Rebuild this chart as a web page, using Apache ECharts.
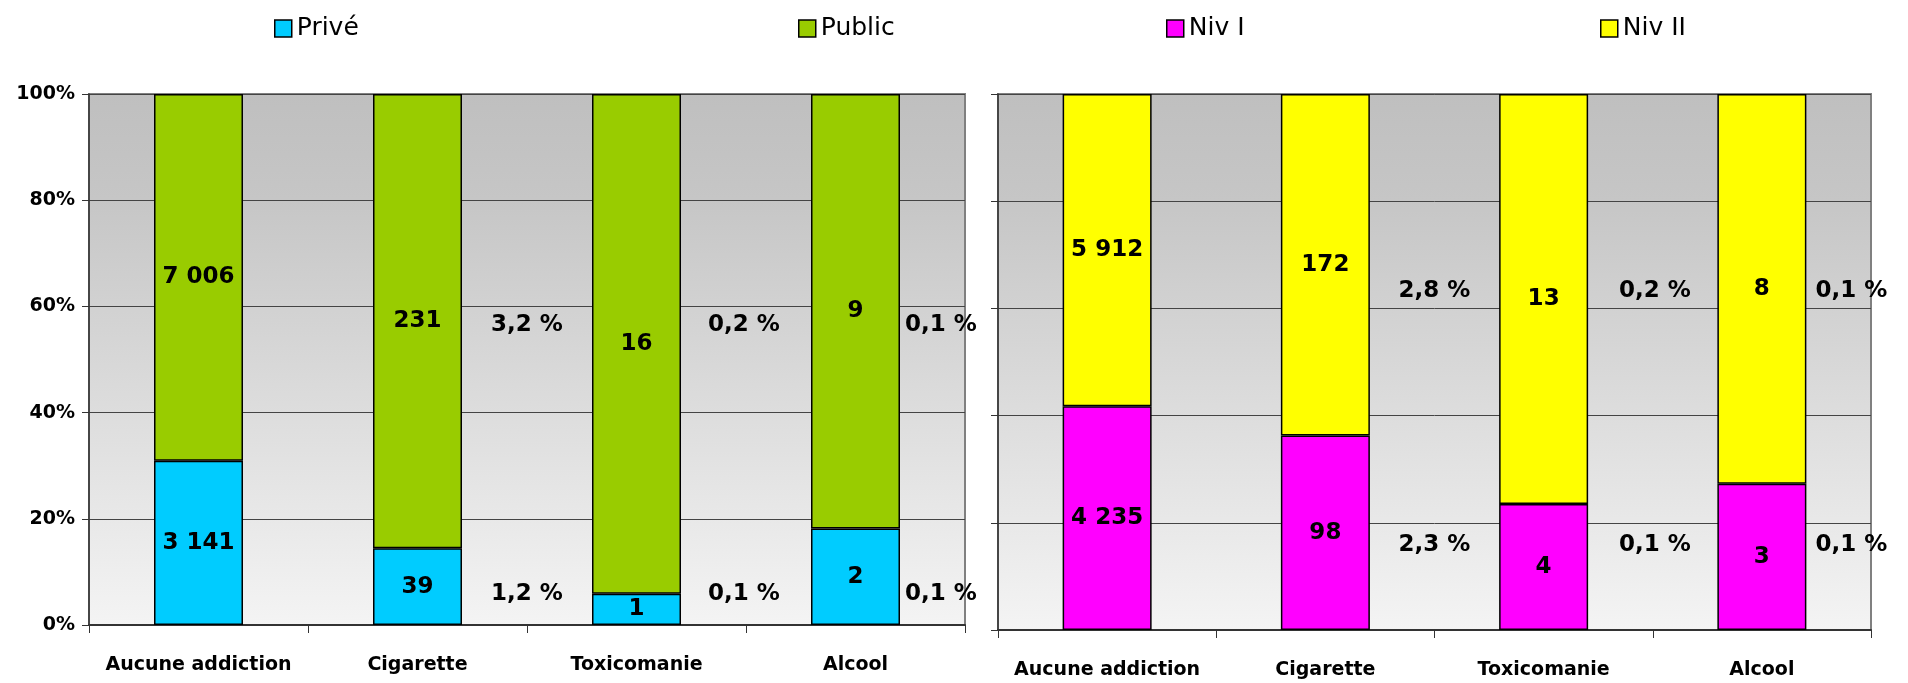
<!DOCTYPE html>
<html>
<head>
<meta charset="utf-8">
<script src="https://cdn.jsdelivr.net/npm/echarts@6/dist/echarts.min.js"></script>
<style>
html,body{margin:0;padding:0;background:#fff;}
#chart{width:1908px;height:683px;}
</style>
</head>
<body>
<div id="chart"></div>
<script>
// ---- data ----
const categories = ['Aucune addiction', 'Cigarette', 'Toxicomanie', 'Alcool'];
const prive  = [3141, 39, 1, 2];
const publicS = [7006, 231, 16, 9];
const niv1   = [4235, 98, 4, 3];
const niv2   = [5912, 172, 13, 8];
const yTicks = [0, 20, 40, 60, 80, 100];

// side annotations (text, and their anchor in data units: category-band units on x, % on y)
const leftNotesTop     = ['3,2 %', '0,2 %', '0,1 %'];
const leftNotesBottom  = ['1,2 %', '0,1 %', '0,1 %'];
const rightNotesTop    = ['2,8 %', '0,2 %', '0,1 %'];
const rightNotesBottom = ['2,3 %', '0,1 %', '0,1 %'];
const leftNotesX  = [2.0, 2.99, 3.89];
const rightNotesX = [2.0, 3.01, 3.91];
const leftNotesY  = [56.5, 5.8];
const rightNotesY = [63.2, 15.9];

// ---- helpers ----
const FONT = 'DejaVu Sans';
function fmt(n) { return String(n).replace(/\B(?=(\d{3})+(?!\d))/g, ' '); }
function pct(a, b) { return a.map((v, i) => v / (v + b[i]) * 100); }
function notes(xs, tops, bottoms, ys) {
  const d = [];
  xs.forEach((x, i) => { d.push([x, ys[0], tops[i]]); d.push([x, ys[1], bottoms[i]]); });
  return d;
}
function makeBg() {
  return new echarts.graphic.LinearGradient(0, 0, 0, 1, [
    { offset: 0, color: '#bfbfbf' },
    { offset: 0.2, color: '#c6c6c6' },
    { offset: 1, color: '#f4f4f4' }
  ]);
}

const labelStyle = { show: true, position: 'inside', color: '#000', opacity: 1, textBorderWidth: 0, fontFamily: FONT, fontWeight: 'bold', fontSize: 23 };

function barSeries(name, vals, other, color, xi, yi) {
  return {
    name, type: 'bar', stack: 's' + xi, xAxisIndex: xi, yAxisIndex: yi,
    data: pct(vals, other), barWidth: 89,
    itemStyle: { color, borderColor: '#000', borderWidth: 1.5 },
    label: Object.assign({}, labelStyle, { formatter: p => fmt(vals[p.dataIndex]) }),
    emphasis: { disabled: true }
  };
}
function noteSeries(data, xi, yi) {
  return {
    type: 'scatter', xAxisIndex: xi, yAxisIndex: yi, data, symbolSize: 1, silent: true, z: 10,
    itemStyle: { color: 'rgba(0,0,0,0)', opacity: 1 },
    label: Object.assign({}, labelStyle, { formatter: p => p.value[2] })
  };
}
function catAxis(gi) {
  return {
    type: 'category', gridIndex: gi, data: categories,
    axisLine: { lineStyle: { color: '#333', width: 2 } },
    axisTick: { show: true, interval: 0, alignWithLabel: false, length: 8, lineStyle: { color: '#333', width: 1 } },
    axisLabel: { interval: 0, color: '#000', fontFamily: FONT, fontWeight: 'bold', fontSize: 19, margin: 31 }
  };
}
function valAxis(gi, showLabels) {
  return {
    type: 'value', gridIndex: gi, min: 0, max: 100, interval: 20,
    axisLine: { show: true, lineStyle: { color: '#333', width: 1.5 } },
    axisTick: { show: true, length: 7, lineStyle: { color: '#333' } },
    splitLine: { show: true, lineStyle: { color: '#444', width: 1 } },
    axisLabel: {
      show: showLabels, color: '#000', fontFamily: FONT, fontWeight: 'bold', fontSize: 19, margin: 14,
      formatter: v => yTicks.includes(v) ? v + '%' : ''
    }
  };
}
function legend(name, left) {
  return {
    data: [name], left, top: 11, itemWidth: 17, itemHeight: 17, itemGap: 6, selectedMode: false,
    icon: 'rect',
    itemStyle: { borderColor: '#000', borderWidth: 1.5 },
    textStyle: { color: '#000', fontFamily: FONT, fontSize: 25, padding: [0, 0, 0, 0] }
  };
}

const chart = echarts.init(document.getElementById('chart'), null, { renderer: 'canvas' });
chart.setOption({
  animation: false,
  backgroundColor: '#fff',
  color: ['#00ccff', '#99cc00', '#ff00ff', '#ffff00'],
  legend: [
    legend('Privé', 269),
    legend('Public', 793),
    legend('Niv I', 1161),
    legend('Niv II', 1595)
  ],
  grid: [
    { left: 89, right: 943, top: 94, bottom: 58, show: true, backgroundColor: makeBg(), borderColor: '#808080', borderWidth: 2 },
    { left: 998, right: 37, top: 94, bottom: 53, show: true, backgroundColor: makeBg(), borderColor: '#808080', borderWidth: 2 }
  ],
  xAxis: [
    catAxis(0), catAxis(1),
    { type: 'value', gridIndex: 0, min: 0, max: 4, show: false },
    { type: 'value', gridIndex: 1, min: 0, max: 4, show: false }
  ],
  yAxis: [valAxis(0, true), valAxis(1, false)],
  series: [
    barSeries('Privé', prive, publicS, '#00ccff', 0, 0),
    barSeries('Public', publicS, prive, '#99cc00', 0, 0),
    barSeries('Niv I', niv1, niv2, '#ff00ff', 1, 1),
    barSeries('Niv II', niv2, niv1, '#ffff00', 1, 1),
    noteSeries(notes(leftNotesX, leftNotesTop, leftNotesBottom, leftNotesY), 2, 0),
    noteSeries(notes(rightNotesX, rightNotesTop, rightNotesBottom, rightNotesY), 3, 1)
  ]
});
</script>
</body>
</html>
